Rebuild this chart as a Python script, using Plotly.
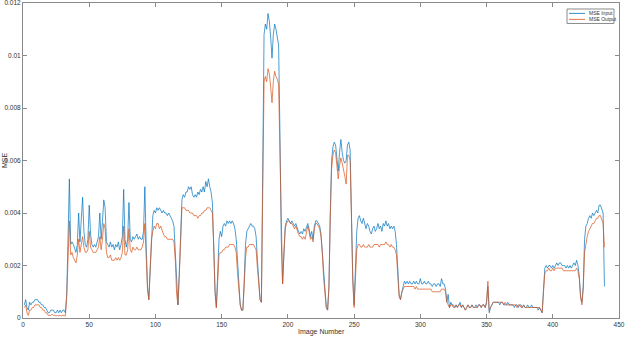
import plotly.graph_objects as go

# image index 1..439
image_number = list(range(1, 440))

mse_input = [
    0.0005, 0.0007, 0.0004, 0.0003, 0.0006, 0.0005, 0.0006, 0.0006, 0.0007, 0.0007,
    0.0007, 0.0006, 0.0006, 0.0005, 0.0005, 0.0004, 0.0004, 0.0003, 0.0002, 0.0002,
    0.0003, 0.0003, 0.0003, 0.0002, 0.0002, 0.0003, 0.0002, 0.0003, 0.0002, 0.0003,
    0.0003, 0.0002, 0.0009, 0.0030, 0.0053, 0.0028, 0.0029, 0.0028, 0.0026, 0.0025,
    0.0028, 0.0040, 0.0029, 0.0036, 0.0046, 0.0033, 0.0028, 0.0027, 0.0030, 0.0043,
    0.0032, 0.0028, 0.0027, 0.0028, 0.0027, 0.0029, 0.0031, 0.0040, 0.0030, 0.0037,
    0.0045, 0.0042, 0.0029, 0.0028, 0.0027, 0.0029, 0.0027, 0.0028, 0.0026, 0.0028,
    0.0027, 0.0029, 0.0026, 0.0028, 0.0031, 0.0049, 0.0030, 0.0027, 0.0030, 0.0044,
    0.0030, 0.0029, 0.0031, 0.0030, 0.0031, 0.0032, 0.0030, 0.0031, 0.0030, 0.0030,
    0.0033, 0.0050, 0.0028, 0.0012, 0.0007, 0.0018, 0.0034, 0.0039, 0.0041, 0.0040,
    0.0042, 0.0041, 0.0042, 0.0041, 0.0040, 0.0041, 0.0040, 0.0040, 0.0039, 0.0040,
    0.0039, 0.0038, 0.0037, 0.0035, 0.0024, 0.0010, 0.0005, 0.0017, 0.0036, 0.0045,
    0.0047, 0.0046, 0.0048, 0.0048, 0.0050, 0.0049, 0.0050, 0.0047, 0.0046, 0.0047,
    0.0046, 0.0048, 0.0047, 0.0049, 0.0048, 0.0050, 0.0048, 0.0052, 0.0050, 0.0053,
    0.0050, 0.0048, 0.0044, 0.0030, 0.0010, 0.0004, 0.0018, 0.0030, 0.0033, 0.0031,
    0.0035, 0.0036, 0.0035, 0.0037, 0.0036, 0.0037, 0.0036, 0.0037, 0.0036, 0.0034,
    0.0030, 0.0020, 0.0010, 0.0005, 0.0003, 0.0003, 0.0014, 0.0028, 0.0033, 0.0034,
    0.0035, 0.0036, 0.0035, 0.0035, 0.0034, 0.0031, 0.0022, 0.0012, 0.0007, 0.0006,
    0.0060, 0.0108, 0.0112, 0.0110, 0.0116, 0.0113, 0.0107, 0.0099, 0.0108, 0.0112,
    0.0110, 0.0107, 0.0104, 0.0070, 0.0030, 0.0013, 0.0025, 0.0035, 0.0037, 0.0038,
    0.0037, 0.0036, 0.0037, 0.0036, 0.0035, 0.0036, 0.0034, 0.0033, 0.0032, 0.0033,
    0.0032, 0.0034, 0.0033, 0.0035, 0.0036, 0.0034, 0.0031, 0.0033, 0.0030, 0.0035,
    0.0037, 0.0037, 0.0036, 0.0035, 0.0032, 0.0025, 0.0015, 0.0008, 0.0004, 0.0003,
    0.0012, 0.0040, 0.0060, 0.0065, 0.0067, 0.0066, 0.0062, 0.0056, 0.0063, 0.0068,
    0.0063, 0.0060, 0.0059, 0.0060, 0.0066, 0.0067, 0.0064, 0.0040, 0.0015, 0.0005,
    0.0020, 0.0033, 0.0038, 0.0039, 0.0037, 0.0036, 0.0038, 0.0036, 0.0034, 0.0036,
    0.0035, 0.0033, 0.0032, 0.0034, 0.0035, 0.0033, 0.0034, 0.0036, 0.0034, 0.0035,
    0.0033, 0.0036, 0.0035, 0.0037, 0.0035, 0.0036, 0.0034, 0.0035, 0.0034, 0.0035,
    0.0033, 0.0028, 0.0018, 0.0009, 0.0007, 0.0010, 0.0012, 0.0014, 0.0013, 0.0014,
    0.0013, 0.0014, 0.0013, 0.0013, 0.0014, 0.0013, 0.0014, 0.0013, 0.0013, 0.0015,
    0.0013, 0.0013, 0.0014, 0.0013, 0.0013, 0.0014, 0.0013, 0.0013, 0.0012, 0.0013,
    0.0013, 0.0012, 0.0013, 0.0013, 0.0012, 0.0015, 0.0013, 0.0013, 0.0011, 0.0006,
    0.0009, 0.0004, 0.0006, 0.0005, 0.0005, 0.0004, 0.0005, 0.0004, 0.0005, 0.0006,
    0.0004, 0.0005, 0.0004, 0.0003, 0.0004, 0.0005, 0.0004, 0.0004, 0.0005, 0.0004,
    0.0004, 0.0005, 0.0004, 0.0005, 0.0005, 0.0004, 0.0005, 0.0005, 0.0004, 0.0006,
    0.0012, 0.0002, 0.0004, 0.0005, 0.0006, 0.0006, 0.0006, 0.0006, 0.0006, 0.0005,
    0.0006, 0.0006, 0.0005, 0.0005, 0.0005, 0.0006, 0.0005, 0.0005, 0.0005, 0.0005,
    0.0004, 0.0005, 0.0005, 0.0004, 0.0005, 0.0005, 0.0004, 0.0005, 0.0004, 0.0004,
    0.0005, 0.0004, 0.0004, 0.0005, 0.0004, 0.0004, 0.0004, 0.0004, 0.0003, 0.0004,
    0.0003, 0.0002, 0.0011, 0.0019, 0.0020, 0.0019, 0.0020, 0.0020, 0.0019, 0.0020,
    0.0019, 0.0020, 0.0021, 0.0020, 0.0021, 0.0021, 0.0020, 0.0020, 0.0020, 0.0019,
    0.0020, 0.0019, 0.0020, 0.0019, 0.0020, 0.0021, 0.0020, 0.0022, 0.0020, 0.0016,
    0.0008, 0.0006, 0.0012, 0.0030, 0.0035, 0.0036, 0.0038, 0.0039, 0.0038, 0.0040,
    0.0039, 0.0040, 0.0041, 0.0040, 0.0043, 0.0043, 0.0041, 0.0040, 0.0012,
]

mse_output = [
    0.0004, 0.0005, 0.0002, 0.0001, 0.0003, 0.0003, 0.0004, 0.0004, 0.0005, 0.0005,
    0.0005, 0.0005, 0.0004, 0.0004, 0.0003, 0.0003, 0.0002, 0.0002, 0.0001, 0.0001,
    0.0001, 0.00015, 0.0001, 0.0001, 0.00008, 0.0001, 0.00008, 0.0001, 0.00008, 0.0001,
    0.0001, 0.00008, 0.0008, 0.0022, 0.0037, 0.0024, 0.0025, 0.0023, 0.0022, 0.0021,
    0.0024, 0.0030, 0.0025, 0.0028, 0.0031, 0.0027, 0.0025, 0.0025, 0.0026, 0.0033,
    0.0027, 0.0026, 0.0025, 0.0025, 0.0025, 0.0026, 0.0027, 0.0031, 0.0026, 0.0030,
    0.0036, 0.0034, 0.0025, 0.0023, 0.0023, 0.0024, 0.0022, 0.0022, 0.0022, 0.0023,
    0.0022, 0.0023, 0.0022, 0.0023, 0.0025, 0.0035, 0.0024, 0.0024, 0.0026, 0.0034,
    0.0026, 0.0025, 0.0027, 0.0026, 0.0026, 0.0027, 0.0026, 0.0026, 0.0026, 0.0027,
    0.0029, 0.0036, 0.0024, 0.0011, 0.0007, 0.0017, 0.0030, 0.0033, 0.0035, 0.0034,
    0.0036, 0.0036, 0.0034, 0.0035, 0.0033, 0.0032, 0.0031, 0.0031, 0.0030, 0.0030,
    0.0030, 0.0030, 0.0030, 0.0029, 0.0022, 0.0009, 0.0005, 0.0016, 0.0034, 0.0042,
    0.0042, 0.0042, 0.0041, 0.0041, 0.0041, 0.0040, 0.0040, 0.0040, 0.0039, 0.0039,
    0.0039, 0.0038, 0.0039, 0.0039, 0.0040, 0.0040, 0.0041, 0.0041, 0.0042, 0.0042,
    0.0042, 0.0041, 0.0040, 0.0028, 0.0010, 0.0004, 0.0016, 0.0024, 0.0025, 0.0025,
    0.0026, 0.0026, 0.0027, 0.0027, 0.0027, 0.0028, 0.0028, 0.0028, 0.0028, 0.0027,
    0.0025, 0.0017, 0.0009, 0.0005, 0.0003, 0.0003, 0.0012, 0.0023, 0.0027, 0.0027,
    0.0028, 0.0028, 0.0028, 0.0028, 0.0027, 0.0026, 0.0019, 0.0011, 0.0007, 0.0006,
    0.0050, 0.0090, 0.0092, 0.0090, 0.0095, 0.0093, 0.0088, 0.0082, 0.0090, 0.0094,
    0.0092, 0.0091, 0.0089, 0.0062, 0.0028, 0.0013, 0.0025, 0.0034, 0.0036, 0.0037,
    0.0037, 0.0036, 0.0036, 0.0035, 0.0034, 0.0035, 0.0033, 0.0032, 0.0031, 0.0031,
    0.0030, 0.0031, 0.0030, 0.0033, 0.0035, 0.0033, 0.0030, 0.0031, 0.0029, 0.0034,
    0.0036, 0.0036, 0.0035, 0.0034, 0.0031, 0.0025, 0.0015, 0.0008, 0.0004, 0.0003,
    0.0012, 0.0038, 0.0057, 0.0062, 0.0064, 0.0063, 0.0058, 0.0053, 0.0058, 0.0061,
    0.0059, 0.0057, 0.0054, 0.0051, 0.0062, 0.0062, 0.0060, 0.0038, 0.0014, 0.0004,
    0.0018, 0.0026, 0.0028, 0.0028, 0.0027, 0.0027, 0.0028, 0.0027, 0.0027, 0.0027,
    0.0028, 0.0027, 0.0027, 0.0027, 0.0028, 0.0028, 0.0028, 0.0028, 0.0027, 0.0028,
    0.0028, 0.0028, 0.0028, 0.0029, 0.0028, 0.0028, 0.0027, 0.0028, 0.0027, 0.0027,
    0.0026, 0.0024, 0.0016, 0.0008, 0.0007, 0.0010, 0.0011, 0.0012, 0.0012, 0.0012,
    0.0012, 0.0012, 0.0012, 0.0012, 0.0012, 0.0011, 0.0012, 0.0011, 0.0011, 0.0011,
    0.0011, 0.0011, 0.0011, 0.0011, 0.0011, 0.0011, 0.0011, 0.0011, 0.0010, 0.0010,
    0.0010, 0.0010, 0.0010, 0.0010, 0.0010, 0.0011, 0.0011, 0.0011, 0.0010, 0.0006,
    0.0005, 0.0004, 0.0005, 0.0005, 0.0004, 0.0004, 0.0005, 0.0004, 0.0005, 0.0005,
    0.0004, 0.0005, 0.0004, 0.0003, 0.0004, 0.0005, 0.0004, 0.0004, 0.0005, 0.0004,
    0.0004, 0.0004, 0.0004, 0.0005, 0.0005, 0.0004, 0.0005, 0.0005, 0.0004, 0.0006,
    0.0014, 0.0003, 0.0004, 0.0005, 0.0006, 0.0006, 0.0006, 0.0006, 0.0006, 0.0006,
    0.0006, 0.0006, 0.0005, 0.0006, 0.0005, 0.0005, 0.0005, 0.0005, 0.0005, 0.0005,
    0.0005, 0.0005, 0.0004, 0.0005, 0.0005, 0.0004, 0.0004, 0.0005, 0.0004, 0.0004,
    0.0004, 0.0004, 0.0004, 0.0004, 0.0004, 0.0004, 0.0004, 0.0004, 0.0004, 0.0004,
    0.0003, 0.0002, 0.0010, 0.0017, 0.0018, 0.0018, 0.0019, 0.0018, 0.0018, 0.0019,
    0.0018, 0.0019, 0.0019, 0.0019, 0.0019, 0.0019, 0.0019, 0.0018, 0.0018, 0.0018,
    0.0018, 0.0018, 0.0018, 0.0018, 0.0018, 0.0018, 0.0018, 0.0019, 0.0018, 0.0015,
    0.0008, 0.0005, 0.0011, 0.0025, 0.0029, 0.0031, 0.0033, 0.0034, 0.0035, 0.0036,
    0.0036, 0.0037, 0.0038, 0.0038, 0.0039, 0.0039, 0.0037, 0.0036, 0.0027,
]

x_ticks = [0, 50, 100, 150, 200, 250, 300, 350, 400, 450]
y_ticks = [0, 0.002, 0.004, 0.006, 0.008, 0.01, 0.012]
y_tick_labels = ["0", "0.002", "0.004", "0.006", "0.008", "0.01", "0.012"]

BLUE = "#0072BD"
ORANGE = "#D95319"
AXIS = "#8a8a8a"
TEXT = "#333333"

fig = go.Figure()
fig.add_trace(go.Scatter(x=image_number, y=mse_input, mode="lines",
                         name="MSE Input", line={"color": BLUE, "width": 0.7}))
fig.add_trace(go.Scatter(x=image_number, y=mse_output, mode="lines",
                         name="MSE Output", line={"color": ORANGE, "width": 0.7}))

axis_style = {
    "showline": True,
    "linecolor": AXIS,
    "linewidth": 1,
    "mirror": "ticks",
    "ticks": "inside",
    "ticklen": 4,
    "tickcolor": AXIS,
    "tickwidth": 1,
    "showgrid": False,
    "zeroline": False,
    "automargin": False,
    "ticklabeloverflow": "allow",
    "tickfont": {"size": 6.5, "color": TEXT},
}

fig.update_xaxes(range=[0, 450], tickvals=x_ticks, **axis_style)
fig.update_yaxes(range=[0, 0.012], tickvals=y_ticks, ticktext=y_tick_labels,
                 **axis_style)

# axis titles placed as annotations to keep them tight to the page edge
fig.add_annotation(x=0.5, y=-0.044, xref="paper", yref="paper", text="Image Number",
                   showarrow=False, xanchor="center", yanchor="middle",
                   font={"size": 7, "color": TEXT})
fig.add_annotation(x=-0.031, y=0.50, xref="paper", yref="paper", text="MSE",
                   showarrow=False, textangle=-90, xanchor="center", yanchor="middle",
                   font={"size": 7, "color": TEXT})

# legend drawn as a small boxed key, MATLAB style
leg_x0, leg_x1 = 0.9128, 0.9916
leg_y0, leg_y1 = 0.935, 0.981
fig.add_shape(type="rect", xref="paper", yref="paper",
              x0=leg_x0, x1=leg_x1, y0=leg_y0, y1=leg_y1,
              line={"color": AXIS, "width": 1}, fillcolor="white")
for name, color, yy in [("MSE Input", BLUE, 0.967), ("MSE Output", ORANGE, 0.948)]:
    fig.add_shape(type="line", xref="paper", yref="paper",
                  x0=0.9161, x1=0.943, y0=yy, y1=yy,
                  line={"color": color, "width": 0.8})
    fig.add_annotation(x=0.9463, y=yy, xref="paper", yref="paper",
                       text=name, showarrow=False, xanchor="left", yanchor="middle",
                       font={"size": 5, "color": TEXT})

fig.update_layout(
    width=625,
    height=337,
    margin={"l": 23, "r": 6, "t": 3, "b": 19},
    paper_bgcolor="white",
    plot_bgcolor="white",
    showlegend=False,
    hovermode=False,
    font={"family": "Liberation Sans, Arial, sans-serif", "color": TEXT},
)

# drop the browser's default body margin so the figure sits at the page corner
fig.write_html("out.html", config={"displayModeBar": False},
               post_script="document.body.style.margin = '0';")
